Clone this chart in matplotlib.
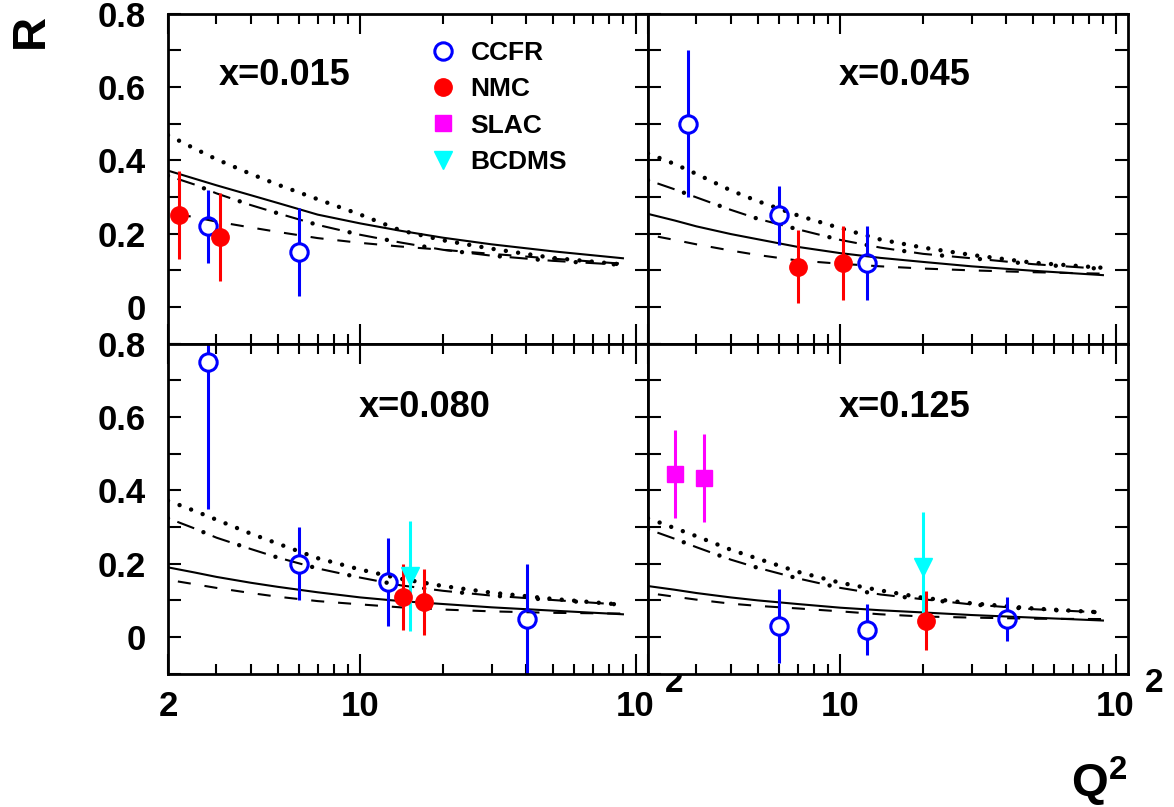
import numpy as np
import matplotlib
matplotlib.use("Agg")
import matplotlib.pyplot as plt
from matplotlib.lines import Line2D
from matplotlib.ticker import FixedLocator, FuncFormatter, NullFormatter

plt.rcParams["font.family"] = ["Liberation Sans", "DejaVu Sans"]
plt.rcParams["font.weight"] = "bold"
plt.rcParams["lines.scale_dashes"] = False
plt.rcParams["mathtext.fontset"] = "custom"
plt.rcParams["mathtext.bf"] = "Liberation Sans:bold"
plt.rcParams["mathtext.rm"] = "Liberation Sans:bold"

# x bins, one panel each
panels = [0.015, 0.045, 0.080, 0.125]
panel_labels = ["x=0.015", "x=0.045", "x=0.080", "x=0.125"]

# theory curves on a common Q^2 grid
curve_q2 = [2, 2.5, 3, 4, 5, 7, 10, 14, 20, 30, 50, 90]

solid_015 = [0.372, 0.350, 0.332, 0.305, 0.284, 0.252, 0.228, 0.208, 0.189, 0.171, 0.152, 0.133]
dashed_015 = [0.258, 0.245, 0.233, 0.217, 0.205, 0.188, 0.175, 0.165, 0.156, 0.145, 0.132, 0.118]
dotted_015 = [0.469, 0.432, 0.403, 0.363, 0.334, 0.294, 0.252, 0.209, 0.182, 0.159, 0.134, 0.116]
dashdot_015 = [0.358, 0.334, 0.310, 0.278, 0.256, 0.224, 0.197, 0.176, 0.156, 0.140, 0.126, 0.115]

solid_045 = [0.254, 0.236, 0.220, 0.199, 0.185, 0.164, 0.147, 0.134, 0.123, 0.111, 0.099, 0.087]
dashed_045 = [0.197, 0.183, 0.171, 0.154, 0.142, 0.127, 0.118, 0.111, 0.105, 0.100, 0.095, 0.091]
dotted_045 = [0.419, 0.390, 0.363, 0.318, 0.289, 0.250, 0.215, 0.184, 0.162, 0.142, 0.121, 0.107]
dashdot_045 = [0.346, 0.321, 0.299, 0.265, 0.241, 0.212, 0.183, 0.162, 0.145, 0.133, 0.117, 0.104]

solid_080 = [0.190, 0.176, 0.164, 0.148, 0.137, 0.122, 0.108, 0.098, 0.090, 0.081, 0.072, 0.062]
dashed_080 = [0.156, 0.144, 0.134, 0.120, 0.110, 0.098, 0.089, 0.081, 0.075, 0.070, 0.066, 0.064]
dotted_080 = [0.372, 0.344, 0.320, 0.282, 0.255, 0.215, 0.184, 0.159, 0.139, 0.121, 0.104, 0.088]
dashdot_080 = [0.324, 0.296, 0.271, 0.240, 0.217, 0.187, 0.162, 0.141, 0.126, 0.113, 0.101, 0.088]

solid_125 = [0.139, 0.129, 0.120, 0.108, 0.100, 0.090, 0.080, 0.073, 0.067, 0.060, 0.053, 0.045]
dashed_125 = [0.120, 0.110, 0.102, 0.091, 0.085, 0.078, 0.070, 0.062, 0.056, 0.053, 0.050, 0.049]
dotted_125 = [0.324, 0.297, 0.275, 0.238, 0.214, 0.178, 0.148, 0.127, 0.107, 0.092, 0.078, 0.067]
dashdot_125 = [0.294, 0.268, 0.245, 0.211, 0.189, 0.160, 0.134, 0.116, 0.103, 0.089, 0.076, 0.067]

curves = {
    0.015: (solid_015, dashed_015, dotted_015, dashdot_015),
    0.045: (solid_045, dashed_045, dotted_045, dashdot_045),
    0.080: (solid_080, dashed_080, dotted_080, dashdot_080),
    0.125: (solid_125, dashed_125, dotted_125, dashdot_125),
}

# measurements
ccfr_x = [0.015, 0.015, 0.045, 0.045, 0.045, 0.080, 0.080, 0.080, 0.080, 0.125, 0.125, 0.125]
ccfr_q2 = [2.8, 6.0, 2.8, 6.0, 12.5, 2.8, 6.0, 12.6, 40.4, 6.0, 12.5, 40.2]
ccfr_r = [0.22, 0.15, 0.50, 0.25, 0.12, 0.75, 0.20, 0.15, 0.05, 0.03, 0.02, 0.05]
ccfr_err = [0.10, 0.12, 0.20, 0.08, 0.10, 0.40, 0.10, 0.12, 0.15, 0.10, 0.07, 0.06]

nmc_x = [0.015, 0.015, 0.045, 0.045, 0.080, 0.080, 0.125]
nmc_q2 = [2.2, 3.1, 7.0, 10.2, 14.3, 17.1, 20.5]
nmc_r = [0.25, 0.19, 0.11, 0.12, 0.11, 0.095, 0.045]
nmc_err = [0.12, 0.12, 0.10, 0.10, 0.09, 0.09, 0.08]

slac_x = [0.125, 0.125]
slac_q2 = [2.5, 3.2]
slac_r = [0.445, 0.433]
slac_err = [0.12, 0.12]

bcdms_x = [0.080, 0.125]
bcdms_q2 = [15.1, 20.0]
bcdms_r = [0.167, 0.19]
bcdms_err = [0.15, 0.15]

BLUE, RED, MAGENTA, CYAN = "#0000ff", "#ff0000", "#ff00ff", "#00ffff"
XLIM = (2, 111)
YLIM = (-0.1, 0.8)
MS = 12.5

fig = plt.figure(figsize=(11.74, 8.07), dpi=100)
W, H = 480 / 1174, 330 / 807
X0 = 168 / 1174
Y0 = 1 - 673.7 / 807
positions = {
    0.015: (X0, Y0 + H), 0.045: (X0 + W, Y0 + H),
    0.080: (X0, Y0), 0.125: (X0 + W, Y0),
}


def pick(xs, *cols):
    # select the points that belong to one x bin
    return lambda xb: [np.array([c[i] for i in range(len(xs)) if xs[i] == xb]) for c in cols]


ccfr_sel = pick(ccfr_x, ccfr_q2, ccfr_r, ccfr_err)
nmc_sel = pick(nmc_x, nmc_q2, nmc_r, nmc_err)
slac_sel = pick(slac_x, slac_q2, slac_r, slac_err)
bcdms_sel = pick(bcdms_x, bcdms_q2, bcdms_r, bcdms_err)


def y_fmt(v, pos):
    k = int(round(v * 10))
    if k < 0 or k % 2:
        return ""
    return "0" if k == 0 else f"{v:.1f}"


for i, (xb, label) in enumerate(zip(panels, panel_labels)):
    ax = fig.add_axes([*positions[xb], W, H])
    ax.set_xscale("log")
    ax.set_xlim(*XLIM)
    ax.set_ylim(*YLIM)
    left_col = i % 2 == 0

    # theory curves
    sol, dsh, dot, dd = curves[xb]
    ax.plot(curve_q2, sol, color="k", lw=1.5)
    ax.plot(curve_q2, dsh, color="k", lw=1.5, ls=(12.2, (9.4, 10.0)))
    ax.plot(curve_q2, dot, color="k", lw=3.2, ls=(0, (0.01, 8.9)), dash_capstyle="round")
    ax.plot(curve_q2, dd, color="k", lw=1.5, ls=(20.2, (13.0, 14.4)))
    ax.plot(curve_q2, dd, color="k", lw=3.2, ls=(0, (0.01, 27.4)), dash_capstyle="round")

    # open circles: error bar stops at the marker edge
    px_per_unit = ax.bbox.height / (YLIM[1] - YLIM[0])
    gap = (MS / 2) * fig.dpi / 72 / px_per_unit
    q, r, e = ccfr_sel(xb)
    if len(q):
        ax.vlines(q, r + gap, r + e, color=BLUE, lw=2.2)
        ax.vlines(q, r - e, r - gap, color=BLUE, lw=2.2)
        ax.plot(q, r, "o", ms=MS, mfc="none", mec=BLUE, mew=2.2, zorder=4)

    for sel, col, mk in [(nmc_sel, RED, "o"), (slac_sel, MAGENTA, "s"), (bcdms_sel, CYAN, "v")]:
        q, r, e = sel(xb)
        if len(q):
            ax.vlines(q, r - e, r + e, color=col, lw=2.2)
            ax.plot(q, r, mk, ms=MS if mk != "s" else 12, color=col, mec=col, zorder=4)

    # panel label
    lx = 0.242 if i == 0 else 0.534
    ly = 0.814 if i < 2 else 0.808
    ax.text(lx, ly, label, transform=ax.transAxes, ha="center", va="center", fontsize=26)

    # ticks
    ax.xaxis.set_major_locator(FixedLocator([2, 10, 100]))
    ax.xaxis.set_minor_locator(FixedLocator([3, 4, 5, 6, 7, 8, 9, 20, 30, 40, 50, 60, 70, 80, 90]))
    ax.xaxis.set_minor_formatter(NullFormatter())
    ax.yaxis.set_major_locator(FixedLocator(np.round(np.arange(-0.1, 0.81, 0.1), 2)))
    ax.tick_params(which="both", direction="in", top=True, right=True, width=1.5, labelsize=25)
    ax.tick_params(axis="x", which="major", length=14.4, pad=12)
    ax.tick_params(axis="x", which="minor", length=7.2)
    ax.tick_params(axis="y", which="major", length=9.6, pad=16)
    for s in ax.spines.values():
        s.set_linewidth(2)

    if left_col:
        ax.yaxis.set_major_formatter(FuncFormatter(y_fmt))
    else:
        ax.set_yticklabels([])

    if i >= 2:
        ax.set_xticklabels(["2" if left_col else "", "10", "10"])
        ax.annotate("2", xy=(100, 0), xycoords=("data", "axes fraction"),
                    xytext=(28, -7), textcoords="offset points",
                    ha="center", va="center", fontsize=24)
    else:
        ax.set_xticklabels([])

    if i == 0:
        handles = [
            Line2D([], [], ls="none", marker="o", ms=MS, mfc="none", mec=BLUE, mew=2.2, label="CCFR"),
            Line2D([], [], ls="none", marker="o", ms=MS, color=RED, label="NMC"),
            Line2D([], [], ls="none", marker="s", ms=12, color=MAGENTA, label="SLAC"),
            Line2D([], [], ls="none", marker="v", ms=MS, color=CYAN, label="BCDMS"),
        ]
        ax.legend(handles=handles, loc="upper left", bbox_to_anchor=(0.545, 0.918),
                  frameon=False, fontsize=19, handlelength=1.0, handletextpad=0.55,
                  labelspacing=0.47, borderaxespad=0, borderpad=0)

fig.text(31 / 1174, 1 - 31 / 807, "R", rotation=90, ha="center", va="center", fontsize=34)
fig.text(1127 / 1174, 1 - 797 / 807, r"$\mathbf{Q^{2}}$", ha="right", va="baseline", fontsize=34)

fig.savefig("out.png", dpi=100)
